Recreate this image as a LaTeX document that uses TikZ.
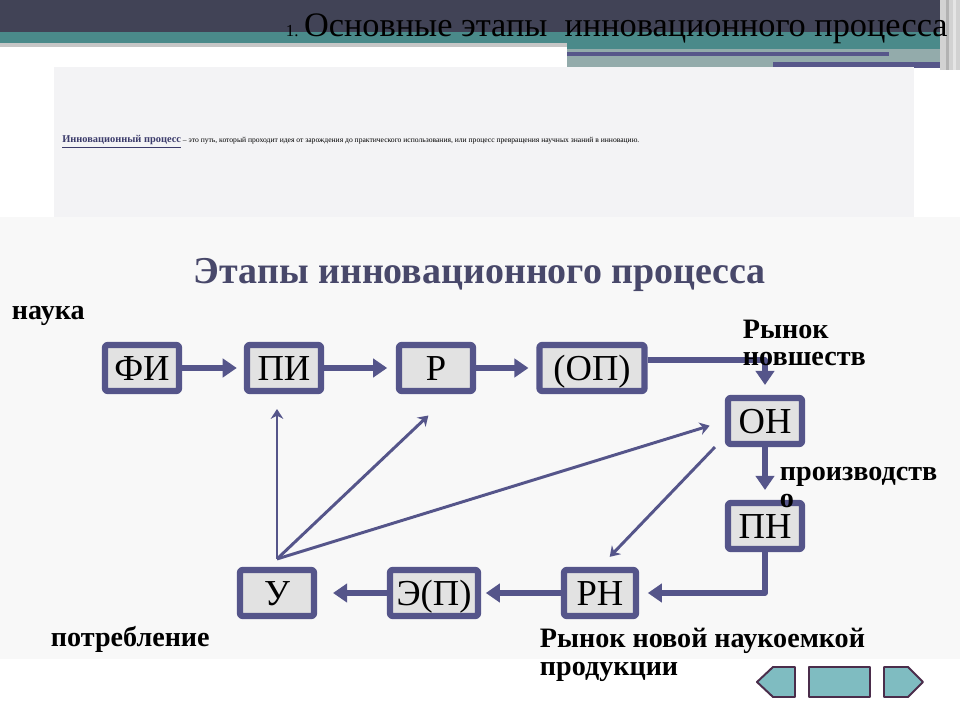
\documentclass[tikz,border=0pt]{standalone}
\usepackage{fontspec}
\setmainfont{Liberation Serif}
\usetikzlibrary{arrows.meta}
\definecolor{headdark}{HTML}{414356}
\definecolor{headteal}{HTML}{4A8A8A}
\definecolor{barline}{HTML}{57578A}
\definecolor{barlight}{HTML}{93ABAB}
\definecolor{boxline}{HTML}{55558A}
\definecolor{boxfill}{HTML}{E2E2E2}
\definecolor{panelfill}{HTML}{F3F3F5}
\definecolor{lowfill}{HTML}{F8F8F8}
\definecolor{headtext}{HTML}{48486A}
\definecolor{linktext}{HTML}{3B3B6B}
\definecolor{navfill}{HTML}{7FBCC1}
\definecolor{navline}{HTML}{4B2D4B}
\tikzset{
  stage/.style={draw=boxline, fill=boxfill, line width=4.3pt, rounded corners=1.5pt,
    minimum width=1.85cm, minimum height=1.15cm, inner sep=0pt, text height=17.5pt, text depth=0pt,
    font=\fontsize{26}{26}\selectfont},
  flow/.style={draw=boxline, line width=4pt, -{Triangle[length=10pt,width=13pt]}},
  feedback/.style={draw=boxline, line width=2.1pt, -{Stealth[length=7pt,width=9pt]}},
  stagenote/.style={font=\bfseries\fontsize{20}{19.5}\selectfont, align=left, anchor=base west}
}
\begin{document}
\begin{tikzpicture}[x=0.025cm, y=-0.025cm, line join=round]
  \useasboundingbox (0,0) rectangle (960,720);
  \fill[white] (0,0) rectangle (960,720);
  % header
  \fill[headdark] (0,0) rectangle (960,32);
  \fill[headteal] (0,32) rectangle (960,43);
  \fill[gray!45] (0,43) rectangle (960,47);
  \fill[headteal] (567,43) rectangle (940,49);
  \fill[barlight] (567,49) rectangle (945,67);
  \fill[barline] (567,52) rectangle (889,56);
  \fill[barline] (773,62) rectangle (943,68);
  \fill[gray!35] (940,0) rectangle (960,70);
  \fill[gray!60] (946,0) rectangle (949,70);
  \fill[gray!20] (953,0) rectangle (956,70);
  \node[anchor=base east, inner sep=0pt] (title) at (948,37)
    {\fontsize{12}{12}\selectfont 1. \fontsize{24.4}{24.4}\selectfont Основные этапы\ \ инновационного процесса};
  % panels
  \fill[panelfill] (54,67) rectangle (914,217);
  \fill[lowfill] (0,217) rectangle (960,659);
  \node[anchor=base west, inner sep=0pt, font=\fontsize{5.4}{5.4}\selectfont] (defn) at (62,143)
    {\textcolor{linktext}{\bfseries\fontsize{7.4}{7.4}\selectfont\underline{Инновационный процесс}} – это путь, который проходит идея от зарождения до практического использования, или процесс превращения научных знаний в инновацию.};
  \node[anchor=base, inner sep=0pt, text=headtext, font=\bfseries\fontsize{27}{27}\selectfont] (heading) at (480,284)
    {Этапы инновационного процесса};
  % stages
  \node[stage] (FI) at (142,368) {ФИ};
  \node[stage] (PI) at (284,368) {ПИ};
  \node[stage] (R) at (436,368) {Р};
  \node[stage, minimum width=2.625cm] (OP) at (592,368) {(ОП)};
  \node[stage] (ON) at (765,421) {ОН};
  \node[stage] (PN) at (765,526) {ПН};
  \node[stage, minimum width=1.8cm] (RN) at (600,593) {РН};
  \node[stage, minimum width=2.2cm] (EP) at (434,593) {Э(П)};
  \node[stage] (U) at (277,593) {У};
  \coordinate (hub) at ([yshift=0.2cm]U.north);
  % main flow
  \draw[flow, shorten >=0.18cm] (FI) -- (PI);
  \draw[flow, shorten >=0.22cm] (PI) -- (R);
  \draw[flow, shorten >=0.2cm] (R) -- (OP);
  \draw[flow, shorten >=0.25cm] ([yshift=0.2cm]OP.east) -| (ON.north);
  \draw[flow, shorten >=0.25cm] (ON) -- (PN);
  \draw[flow, shorten >=0.22cm] (PN.south) |- (RN.east);
  \draw[flow, shorten >=0.12cm] (RN) -- (EP);
  \draw[flow, shorten >=0.4cm] (EP) -- (U);
  % feedback
  \draw[feedback, shorten >=0.375cm] (hub) -- (PI.south -| hub);
  \draw[feedback, shorten >=0.78cm] (hub) -- (R.-60);
  \draw[feedback, shorten >=0.4cm] (hub) -- (ON.west);
  \draw[feedback, shorten >=0.35cm] ([xshift=-0.25cm]ON.south west) -- (RN.north);
  % notes
  \node[stagenote] (science) at (7,320) {наука};
  \node[stagenote] (market) at (738,366) {Рынок\\новшеств};
  \node[stagenote] (production) at (775,508) {производств\\о};
  \node[stagenote] (consume) at (46,646) {потребление};
  \node[stagenote] (newmarket) at (535,675) {Рынок новой наукоемкой\\продукции};
  % navigation
  \filldraw[fill=navfill, draw=navline, line width=1.4pt] (757,682) -- (773,667) -- (795,667) -- (795,697) -- (773,697) -- cycle;
  \filldraw[fill=navfill, draw=navline, line width=1.4pt] (809,667) rectangle (870,697);
  \filldraw[fill=navfill, draw=navline, line width=1.4pt] (884,667) -- (908,667) -- (923,682) -- (908,697) -- (884,697) -- cycle;
\end{tikzpicture}
\end{document}
